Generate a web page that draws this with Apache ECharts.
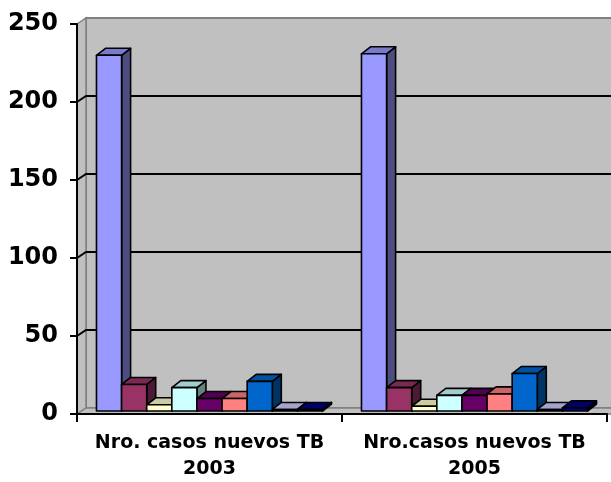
<!DOCTYPE html>
<html><head><meta charset="utf-8">
<script src="https://cdn.jsdelivr.net/npm/echarts@6/dist/echarts.min.js"></script>
<style>html,body{margin:0;padding:0;background:#fff}#c{width:611px;height:482px}</style>
</head><body><div id="c"></div>
<script>
const categories = ['Nro. casos nuevos TB\n2003', 'Nro.casos nuevos TB\n2005'];
const seriesNames = ['Serie 1','Serie 2','Serie 3','Serie 4','Serie 5','Serie 6','Serie 7','Serie 8','Serie 9'];
const serie1 = [228, 229];
const serie2 = [17, 15];
const serie3 = [4, 3];
const serie4 = [15, 10];
const serie5 = [8, 10];
const serie6 = [8, 11];
const serie7 = [19, 24];
const serie8 = [1, 1];
const serie9 = [1, 2];
const allSeries = [serie1, serie2, serie3, serie4, serie5, serie6, serie7, serie8, serie9];
const yTicks = [0, 50, 100, 150, 200, 250];
const colors = ['#9999FF','#993366','#FFFFCC','#CCFFFF','#660066','#FF8080','#0066CC','#CCCCFF','#000080'];

function shade(hex, f) {
  const n = parseInt(hex.slice(1), 16);
  const r = Math.round(((n >> 16) & 255) * f), g = Math.round(((n >> 8) & 255) * f), b = Math.round((n & 255) * f);
  return 'rgb(' + r + ',' + g + ',' + b + ')';
}
const N = allSeries.length;
const WDX = 9, WDY = 6;   // wall depth
const BDX = 9, BDY = 7;   // bar depth
const LIFT = 3;

function wallRender(params, api) {
  const cs = params.coordSys;
  const x = cs.x, y = cs.y, w = cs.width, h = cs.height;
  const children = [];
  children.push({type:'rect', shape:{x:x+WDX, y:y-WDY, width:w+40, height:h},
    style:{fill:'#C0C0C0', stroke:'#808080', lineWidth:2}});
  children.push({type:'polygon', shape:{points:[[x,y],[x+WDX,y-WDY],[x+WDX,y+h-WDY],[x,y+h]]},
    style:{fill:'#C0C0C0', stroke:'#808080', lineWidth:1.5}});
  children.push({type:'polygon', shape:{points:[[x,y+h],[x+WDX,y+h-WDY],[x+w+WDX+40,y+h-WDY],[x+w+40,y+h]]},
    style:{fill:'#C0C0C0', stroke:'#808080', lineWidth:1.5}});
  yTicks.forEach(function(t){
    if (t <= 0 || t >= 250) return;
    const yy = api.coord([0, t])[1];
    children.push({type:'polyline', shape:{points:[[x,yy],[x+WDX,yy-WDY],[x+w+WDX+40,yy-WDY]]},
      style:{stroke:'#000', lineWidth:2, fill:null}});
  });
  return {type:'group', children:children};
}

function barRender(idx) {
  return function(params, api) {
    const cat = api.value(0), v = api.value(1);
    const base = api.coord([cat, 0]);
    const top = api.coord([cat, v]);
    const band = api.size([1, 0])[0];
    const groupW = band * 0.853;
    const bw = groupW / N;
    const x0 = base[0] - groupW / 2 + idx * bw, x1 = x0 + bw;
    const yb = base[1] - LIFT, yt = top[1] - LIFT;
    const c = colors[idx];
    const st = {stroke:'#000', lineWidth:1.6, lineJoin:'round'};
    return {type:'group', children:[
      {type:'polygon', shape:{points:[[x1,yb],[x1,yt],[x1+BDX,yt-BDY],[x1+BDX,yb-BDY]]},
        style:Object.assign({fill:shade(c,0.5)}, st)},
      {type:'polygon', shape:{points:[[x0,yt],[x1,yt],[x1+BDX,yt-BDY],[x0+BDX,yt-BDY]]},
        style:Object.assign({fill:shade(c,0.8)}, st)},
      {type:'rect', shape:{x:x0, y:yt, width:bw, height:yb-yt},
        style:Object.assign({fill:c}, st)}
    ]};
  };
}

const series = [{
  type:'custom', name:'walls', z:1, silent:true, clip:false,
  renderItem: wallRender, data:[[0,0]], encode:{x:0,y:1}
}];
allSeries.forEach(function(vals, i){
  series.push({
    type:'custom', name:seriesNames[i], z:2 + i*0.01, clip:false,
    renderItem: barRender(i),
    data: vals.map(function(v, j){ return [j, v]; }),
    encode:{x:0, y:1}
  });
});

const chart = echarts.init(document.getElementById('c'), null, {renderer:'canvas'});
chart.setOption({
  animation:false,
  backgroundColor:'#ffffff',
  grid:{left:77, right:4, top:24, bottom:66, containLabel:false},
  xAxis:{
    type:'category', data:categories, boundaryGap:true, z:5,
    axisLine:{show:true, lineStyle:{color:'#000', width:2}},
    axisTick:{show:true, alignWithLabel:false, length:8, lineStyle:{color:'#000', width:2}},
    axisLabel:{color:'#000', fontFamily:'DejaVu Sans', fontWeight:'bold', fontSize:19, lineHeight:26, margin:16, interval:0},
    splitLine:{show:false}
  },
  yAxis:{
    type:'value', min:0, max:250, interval:50, z:5,
    axisLine:{show:true, lineStyle:{color:'#000', width:2}},
    axisTick:{show:true, length:7, lineStyle:{color:'#000', width:2}},
    axisLabel:{color:'#000', fontFamily:'DejaVu Sans', fontWeight:'bold', fontSize:24, margin:19},
    splitLine:{show:false}
  },
  series:series
});
</script></body></html>
